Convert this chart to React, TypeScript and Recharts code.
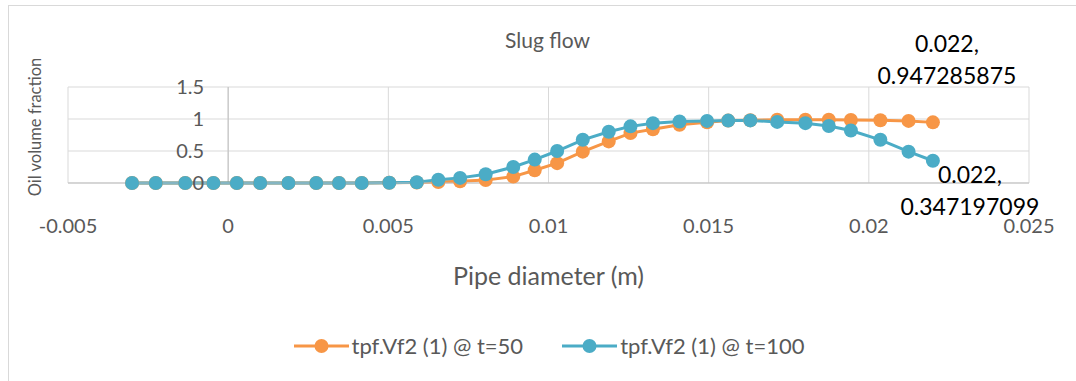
import React from 'react';
import { LineChart, Line, XAxis, YAxis, CartesianGrid, ReferenceLine, Legend, LabelList } from 'recharts';

// pipe diameter positions (m), same for both time steps
const positions = [
  -0.003, -0.00226, -0.00134, -0.00046, 0.00027, 0.001, 0.00188, 0.00275, 0.00346, 0.00417,
  0.00503, 0.00589, 0.00656, 0.00724, 0.00804, 0.0089, 0.00957, 0.01027, 0.01107, 0.01188,
  0.01256, 0.01326, 0.01409, 0.01495, 0.01561, 0.0163, 0.01714, 0.01802, 0.01875, 0.01944,
  0.02036, 0.02124, 0.022,
];

// oil volume fraction @ t=50
const vfT50 = [
  0, 0, 0, 0, 0, 0, 0, 0, 0, 0,
  0.003, 0.008, 0.016, 0.026, 0.045, 0.1, 0.2, 0.31, 0.49, 0.65,
  0.78, 0.84, 0.91, 0.95, 0.975, 0.98, 0.99, 0.99, 0.99, 0.985,
  0.98, 0.97, 0.947285875,
];

// oil volume fraction @ t=100
const vfT100 = [
  0, 0, 0, 0, 0, 0, 0, 0, 0, 0,
  0.003, 0.012, 0.05, 0.08, 0.136, 0.25, 0.366, 0.5, 0.675, 0.8,
  0.885, 0.935, 0.96, 0.97, 0.975, 0.978, 0.955, 0.935, 0.89, 0.82,
  0.675, 0.49, 0.347197099,
];

const seriesNames = ['tpf.Vf2 (1) @ t=50', 'tpf.Vf2 (1) @ t=100'];
const seriesColors = ['#F79646', '#4BACC6'];

const xTicks = [-0.005, 0, 0.005, 0.01, 0.015, 0.02, 0.025];
const xTickLabels = ['-0.005', '0', '0.005', '0.01', '0.015', '0.02', '0.025'];
const yTicks = [0, 0.5, 1, 1.5];
const yTickLabels = ['0', '0.5', '1', '1.5'];

const W = 1076;
const H = 381;
const FONT = 'Lato, "Open Sans", sans-serif';
const GREY = '#595959';
const margin = { top: 87, right: 47, bottom: 88, left: 67 };
const plotLeft = 68;
const plotWidth = W - margin.right - plotLeft;
// pixel where the y axis crosses (x = 0)
const zeroX = plotLeft + (plotWidth * (0 - xTicks[0])) / (xTicks[xTicks.length - 1] - xTicks[0]);

const t50Data = positions.map((x, i) => ({ x, y: vfT50[i] }));
const t100Data = positions.map((x, i) => ({ x, y: vfT100[i] }));

function YTick(props: any) {
  const { y, payload } = props;
  const idx = yTicks.indexOf(payload.value);
  return (
    <text x={zeroX - 24} y={y} dy={7} textAnchor="end" fill={GREY} fontSize={20} fontFamily={FONT}>
      {yTickLabels[idx]}
    </text>
  );
}

function makeEndLabel(data: { x: number; y: number }[], dx: number, dy1: number) {
  return (props: any) => {
    const { x, y, index } = props;
    if (index !== data.length - 1) return null;
    const p = data[index];
    return (
      <text x={x + dx} y={y + dy1} textAnchor="middle" fill="#000" fontSize={23} fontFamily={FONT}>
        <tspan x={x + dx}>{`${p.x},`}</tspan>
        <tspan x={x + dx} dy={32}>{`${p.y}`}</tspan>
      </text>
    );
  };
}

function LegendContent() {
  return (
    <div style={{ display: 'flex', justifyContent: 'center', alignItems: 'center', fontFamily: FONT, fontSize: 22, color: GREY }}>
      {seriesNames.map((name, i) => (
        <div key={name} style={{ display: 'flex', alignItems: 'center', marginRight: i === 0 ? 39 : 0 }}>
          <svg width={55} height={16} style={{ marginRight: 3 }}>
            <line x1={0} y1={8} x2={55} y2={8} stroke={seriesColors[i]} strokeWidth={3} />
            <circle cx={27.5} cy={8} r={7} fill={seriesColors[i]} />
          </svg>
          <span>{name}</span>
        </div>
      ))}
    </div>
  );
}

export default function App() {
  return (
    <div style={{ position: 'absolute', left: 0, top: 0, width: W, height: H, background: '#fff', overflow: 'hidden' }}>
      <div style={{ position: 'absolute', left: 8, top: 5, width: W, height: H, borderLeft: '1px solid #d9d9d9', borderTop: '1px solid #d9d9d9' }} />
      <div style={{ position: 'absolute', left: 0, width: 1095, top: 27, textAlign: 'center', fontFamily: FONT, fontSize: 21, color: GREY }}>
        Slug flow
      </div>
      <div
        style={{
          position: 'absolute', left: 35, top: 127, transform: 'translate(-50%, -50%) rotate(-90deg)',
          whiteSpace: 'nowrap', fontFamily: FONT, fontSize: 16.5, color: GREY,
        }}
      >
        Oil volume fraction
      </div>
      <LineChart width={W} height={H} margin={margin}>
        <CartesianGrid stroke="#d9d9d9" strokeWidth={1} />
        <XAxis
          type="number"
          dataKey="x"
          domain={[xTicks[0], xTicks[xTicks.length - 1]]}
          ticks={xTicks}
          tickFormatter={(v: number) => xTickLabels[xTicks.indexOf(v)]}
          tick={{ fill: GREY, fontSize: 20, fontFamily: FONT }}
          tickLine={false}
          tickSize={0}
          tickMargin={36}
          axisLine={{ stroke: '#bfbfbf' }}
          height={110}
          interval={0}
          label={(p: any) => {
            const vb = p.viewBox;
            return (
              <text x={vb.x + vb.width / 2} y={vb.y + 102} textAnchor="middle" fill={GREY} fontSize={25} fontFamily={FONT}>
                Pipe diameter (m)
              </text>
            );
          }}
        />
        <YAxis
          type="number"
          dataKey="y"
          domain={[0, 1.5]}
          ticks={yTicks}
          width={1}
          axisLine={false}
          tickLine={false}
          tick={<YTick />}
          interval={0}
        />
        <ReferenceLine x={0} stroke="#bfbfbf" strokeWidth={1} />
        <Legend
          layout="horizontal"
          verticalAlign="middle"
          align="center"
          content={<LegendContent />}
          wrapperStyle={{ top: 332, left: 0, width: W + 22 }}
        />
        <Line
          data={t50Data}
          dataKey="y"
          name={seriesNames[0]}
          stroke={seriesColors[0]}
          strokeWidth={3}
          dot={{ r: 7, fill: seriesColors[0], stroke: seriesColors[0], strokeWidth: 0 }}
          isAnimationActive={false}
        >
          <LabelList dataKey="y" content={makeEndLabel(t50Data, 14, -70)} />
        </Line>
        <Line
          data={t100Data}
          dataKey="y"
          name={seriesNames[1]}
          stroke={seriesColors[1]}
          strokeWidth={3}
          dot={{ r: 7, fill: seriesColors[1], stroke: seriesColors[1], strokeWidth: 0 }}
          isAnimationActive={false}
        >
          <LabelList dataKey="y" content={makeEndLabel(t100Data, 37, 22)} />
        </Line>
      </LineChart>
    </div>
  );
}
